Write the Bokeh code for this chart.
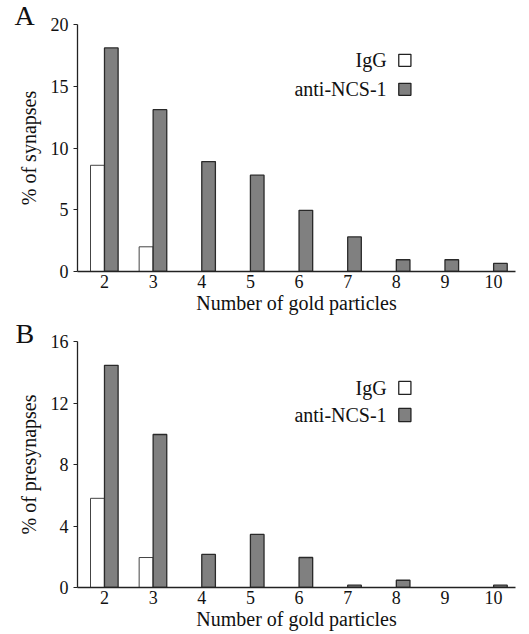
from bokeh.plotting import figure
from bokeh.layouts import column
from bokeh.models import ColumnDataSource, Label, BoxAnnotation, FixedTicker
from bokeh.transform import dodge
from bokeh.embed import file_html
from bokeh.resources import INLINE

particles = [2, 3, 4, 5, 6, 7, 8, 9, 10]
igg_a = [8.6, 2.0, 0, 0, 0, 0, 0, 0, 0]
ncs_a = [18.1, 13.1, 8.9, 7.8, 4.95, 2.8, 0.95, 0.95, 0.65]
igg_b = [5.8, 1.95, 0, 0, 0, 0, 0, 0, 0]
ncs_b = [14.45, 9.95, 2.15, 3.45, 1.95, 0.15, 0.47, 0, 0.15]

yticks_a = [0, 5, 10, 15, 20]
yticks_b = [0, 4, 8, 12, 16]

FONT = "Liberation Serif"
GRAY = "#808080"
EDGE = "#2a2a2a"


def nonzero(values):
    return dict(x=[x for x, v in zip(particles, values) if v > 0],
                top=[v for v in values if v > 0])


def make_panel(letter, igg, ncs, ymax, yticks, ylabel, height, border_top, border_bottom,
               leg, letter_offset, letter_standoff):
    p = figure(width=521, height=height, output_backend="svg", toolbar_location=None,
               x_range=(1.445, 10.45), y_range=(0, ymax),
               min_border_left=77, min_border_right=6,
               min_border_top=border_top, min_border_bottom=border_bottom)
    p.outline_line_color = None
    p.grid.visible = False
    isrc = ColumnDataSource(nonzero(igg))
    nsrc = ColumnDataSource(nonzero(ncs))
    p.vbar(x=dodge("x", -0.145, range=p.x_range), top="top", width=0.285, bottom=0,
           source=isrc, fill_color="white", line_color="#444444", line_width=1)
    p.vbar(x=dodge("x", 0.14, range=p.x_range), top="top", width=0.28, bottom=0,
           source=nsrc, fill_color=GRAY, line_color=EDGE, line_width=1.3)

    p.xaxis.ticker = FixedTicker(ticks=particles)
    p.yaxis.ticker = FixedTicker(ticks=yticks)
    for ax in (p.xaxis, p.yaxis):
        ax.axis_line_color = "#222222"
        ax.axis_line_width = 1.3
        ax.major_label_text_font = FONT
        ax.major_label_text_font_size = "18px"
        ax.major_label_text_color = "#111111"
        ax.axis_label_text_font = FONT
        ax.axis_label_text_font_size = "20px"
        ax.axis_label_text_font_style = "normal"
        ax.axis_label_text_color = "#111111"
        ax.minor_tick_line_color = None
        ax.minor_tick_in = 0
        ax.minor_tick_out = 0
    p.xaxis.major_tick_line_color = None
    p.xaxis.major_tick_in = 0
    p.xaxis.major_tick_out = 0
    p.xaxis.major_label_standoff = 3
    p.yaxis.major_tick_in = 0
    p.yaxis.major_tick_out = 4
    p.yaxis.major_tick_line_color = "#222222"
    p.yaxis.major_label_standoff = 5
    p.xaxis.axis_label = "Number of gold particles"
    p.xaxis.axis_label_standoff = 1
    p.yaxis.axis_label = ylabel
    p.yaxis.axis_label_standoff = 8

    tx, bx0, bx1, y1, y2, h = leg
    for (name, fill, yc) in (("IgG", "white", y1), ("anti-NCS-1", GRAY, y2)):
        p.add_layout(Label(x=tx, y=yc, text=name, text_align="right", text_baseline="middle",
                           text_font=FONT, text_font_size="20px", text_color="#111111"))
        p.add_layout(BoxAnnotation(left=bx0, right=bx1, bottom=yc - h / 2, top=yc + h / 2,
                                   fill_color=fill, fill_alpha=1, line_color="#222222",
                                   line_width=1.3, line_alpha=1))

    # panel letter as the figure title, pulled to the left of the frame
    p.title.text = letter
    p.title.align = "left"
    p.title.offset = letter_offset
    p.title.text_font = FONT
    p.title.text_font_size = "28px"
    p.title.text_font_style = "normal"
    p.title.text_color = "#111111"
    try:
        p.title.standoff = letter_standoff
    except Exception:
        p.title.standoff = 0
    return p


pa = make_panel("A", igg_a, ncs_a, 20, yticks_a, "% of synapses", 319, 24, 48,
                (7.8, 8.05, 8.30, 17.1, 14.75, 0.97), -63, -12)
pb = make_panel("B", igg_b, ncs_b, 16, yticks_b, "% of presynapses", 314, 22, 46,
                (7.8, 8.05, 8.30, 12.98, 11.22, 0.85), -62, -14)

layout = column(pa, pb, spacing=0)
open("out.html", "w").write(file_html(layout, INLINE))
